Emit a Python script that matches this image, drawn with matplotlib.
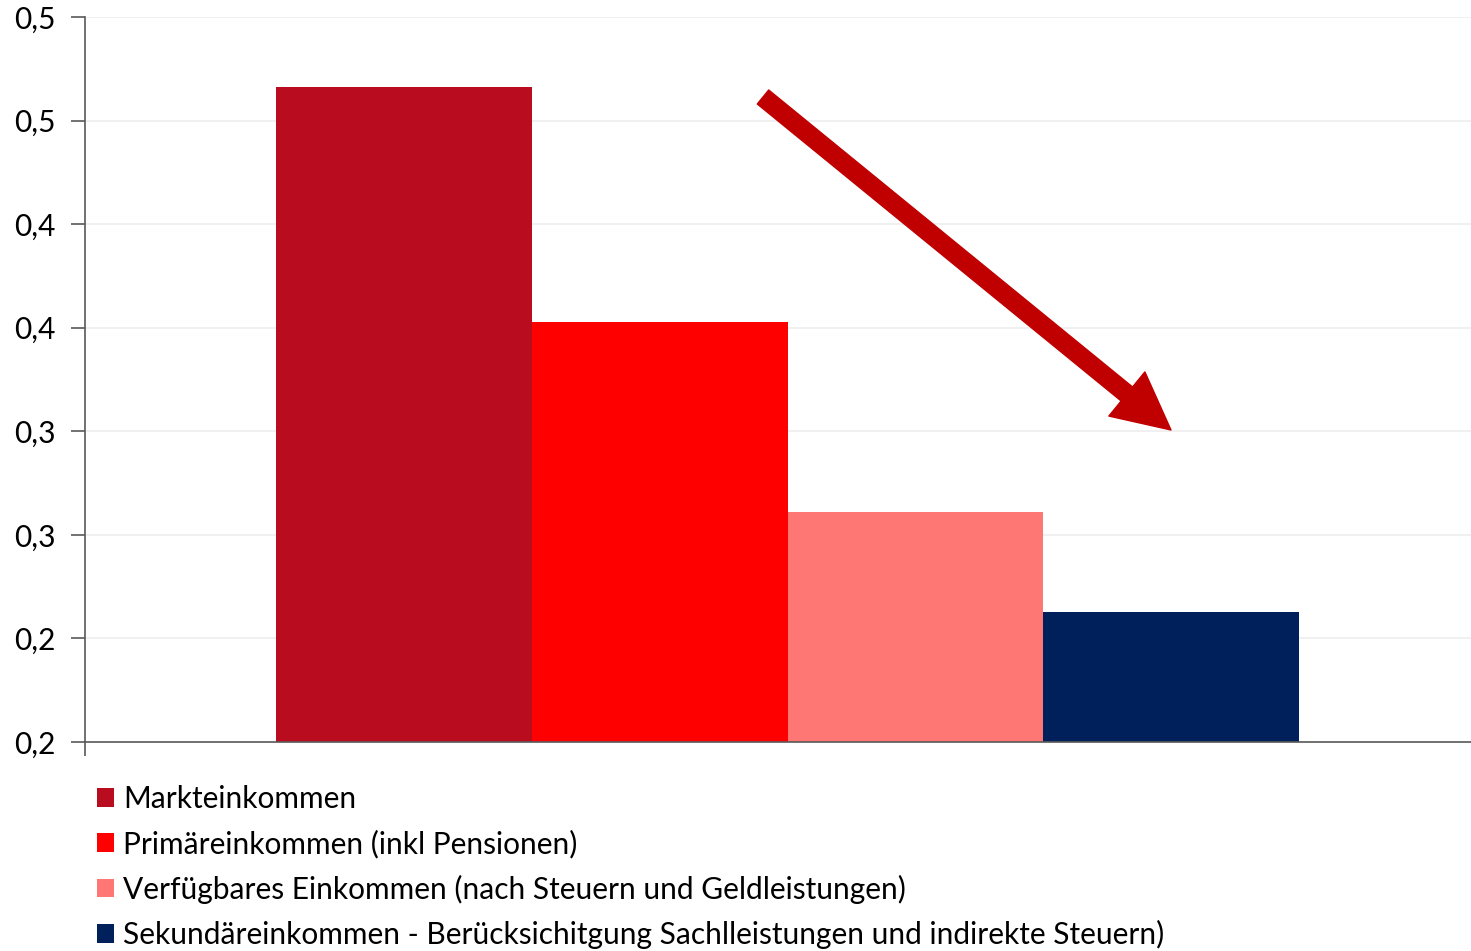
import matplotlib.pyplot as plt
from matplotlib.patches import Patch

# Gini-Koeffizienten nach Einkommensbegriff
labels = [
    "Markteinkommen",
    "Primäreinkommen (inkl Pensionen)",
    "Verfügbares Einkommen (nach Steuern und Geldleistungen)",
    "Sekundäreinkommen - Berücksichitgung Sachlleistungen und indirekte Steuern)",
]
values = [0.466, 0.353, 0.261, 0.213]
colors = ["#BA0C1F", "#FF0000", "#FF7774", "#00205B"]

yticks = [0.15, 0.20, 0.25, 0.30, 0.35, 0.40, 0.45, 0.50]
ytick_labels = ["0,2", "0,2", "0,3", "0,3", "0,4", "0,4", "0,5", "0,5"]

plt.rcParams["font.family"] = ["Lato", "DejaVu Sans"]

fig = plt.figure(figsize=(14.71, 9.51), dpi=100)
ax = fig.add_axes([85 / 1471, 1 - 742 / 951, 1386 / 1471, 725 / 951])

width = 0.1845
offsets = [(i - 1.5) * width for i in range(len(values))]
for x, v, c, lab in zip(offsets, values, colors, labels):
    ax.bar(x, v - yticks[0], bottom=yticks[0], width=width, color=c, label=lab)

ax.set_xlim(-0.507, 0.493)
ax.set_ylim(yticks[0], yticks[-1])
ax.set_yticks(yticks)
ax.set_yticklabels(ytick_labels, fontsize=21.5)
ax.set_xticks([-0.507])
ax.set_xticklabels([""])
ax.tick_params(axis="y", length=10, width=1.2, color="#595959", pad=11)
ax.tick_params(axis="x", length=10, width=1.2, color="#595959")

ax.yaxis.grid(True, color="#EEEEEE", linewidth=1.2)
ax.set_axisbelow(True)
for side in ["top", "right"]:
    ax.spines[side].set_visible(False)
for side in ["left", "bottom"]:
    ax.spines[side].set_color("#595959")
    ax.spines[side].set_linewidth(1.2)

# Abwärtspfeil
ax.annotate(
    "",
    xy=((1171 - 85) / 1386, (742 - 430) / 725),
    xytext=((763 - 85) / 1386, (742 - 97) / 725),
    xycoords="axes fraction",
    textcoords="axes fraction",
    arrowprops=dict(
        arrowstyle="simple,head_length=41,head_width=41,tail_width=13",
        mutation_scale=1,
        color="#C00000",
        shrinkA=0,
        shrinkB=0,
    ),
)

handles = [Patch(facecolor=c, label=l) for c, l in zip(colors, labels)]
fig.legend(
    handles=handles,
    loc="upper left",
    bbox_to_anchor=(85 / 1471, 1 - 773 / 951),
    frameon=False,
    fontsize=21.5,
    handlelength=0.57,
    handleheight=0.57,
    handletextpad=0.3,
    labelspacing=0.55,
    borderaxespad=0,
)

fig.savefig("out.png", dpi=100)
